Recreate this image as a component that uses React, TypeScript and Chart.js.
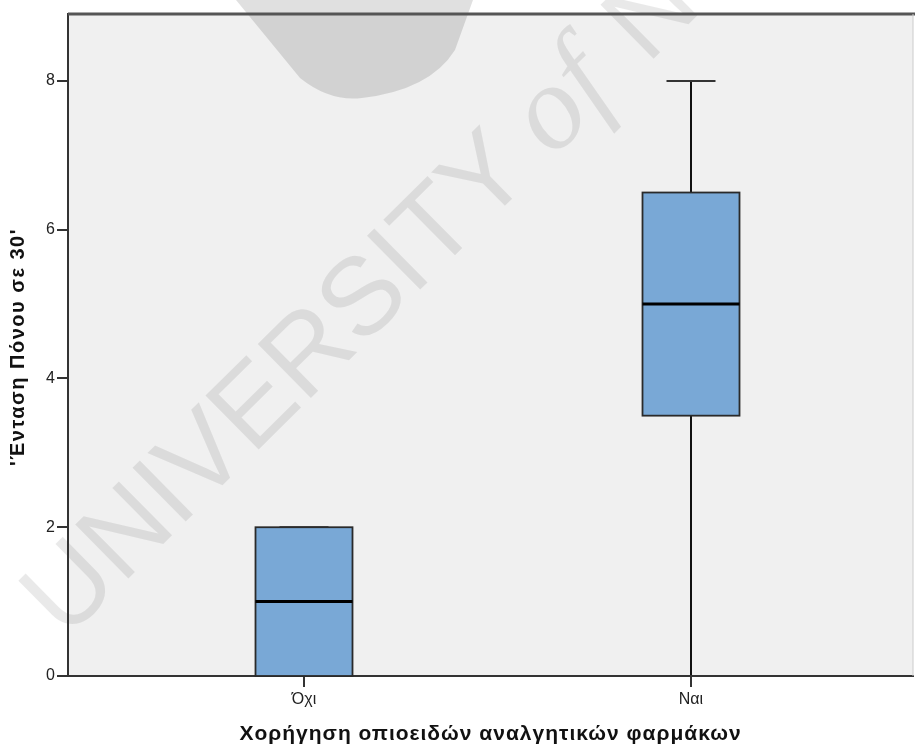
import React, { useEffect, useRef } from "react";
import { Chart, registerables } from "chart.js";

Chart.register(...registerables);

const categories = ["Όχι", "Ναι"];
const whiskerLow = [0, 0];
const quartile1 = [0, 3.5];
const medians = [1, 5];
const quartile3 = [2, 6.5];
const whiskerHigh = [2, 8];
const yTicks = [0, 2, 4, 6, 8];
const yTitle = "'Ένταση Πόνου σε 30'";
const xTitle = "Χορήγηση οπιοειδών αναλγητικών φαρμάκων";
const watermarkWords = ["UNIVERSITY", "of", "N"];

const FONT = "'Liberation Sans', Arial, sans-serif";

function drawWatermark(ctx: CanvasRenderingContext2D) {
  ctx.save();
  // logo fragment at the top
  ctx.fillStyle = "rgba(0,0,0,0.12)";
  ctx.beginPath();
  ctx.moveTo(236, 0);
  ctx.lineTo(300, 78);
  ctx.quadraticCurveTo(330, 102, 362, 98);
  ctx.quadraticCurveTo(430, 90, 455, 50);
  ctx.lineTo(473, 0);
  ctx.closePath();
  ctx.fill();
  ctx.fillStyle = "rgba(0,0,0,0.085)";
  ctx.translate(272, 380);
  ctx.rotate(-0.78);
  ctx.textAlign = "left";
  ctx.textBaseline = "alphabetic";
  ctx.font = `110px ${FONT}`;
  const w = ctx.measureText(watermarkWords[0]).width;
  ctx.fillText(watermarkWords[0], -w / 2, 40);
  ctx.font = `italic 120px 'Liberation Serif', serif`;
  const w2 = ctx.measureText(watermarkWords[1]).width;
  ctx.fillText(watermarkWords[1], w / 2 + 25, 40);
  ctx.font = `110px ${FONT}`;
  ctx.fillText(watermarkWords[2], w / 2 + 25 + w2 + 40, 40);
  ctx.restore();
}

const boxPlugin = {
  id: "boxPlugin",
  beforeDraw(chart: any) {
    const { ctx, chartArea } = chart;
    ctx.save();
    ctx.fillStyle = "#f0f0f0";
    ctx.fillRect(chartArea.left, chartArea.top, chartArea.right - chartArea.left, chartArea.bottom - chartArea.top);
    ctx.restore();
    drawWatermark(ctx);
  },
  afterDatasetsDraw(chart: any) {
    const { ctx, chartArea, scales } = chart;
    const xs = scales.x;
    const ys = scales.y;
    const boxW = 97;
    const capW = 49;
    ctx.save();
    categories.forEach((_, i) => {
      const cx = Math.round(xs.getPixelForValue(i));
      const yLo = ys.getPixelForValue(whiskerLow[i]);
      const yQ1 = ys.getPixelForValue(quartile1[i]);
      const yMed = ys.getPixelForValue(medians[i]);
      const yQ3 = ys.getPixelForValue(quartile3[i]);
      const yHi = ys.getPixelForValue(whiskerHigh[i]);
      ctx.strokeStyle = "#111";
      ctx.lineWidth = 2;
      ctx.beginPath();
      ctx.moveTo(cx, yQ3);
      ctx.lineTo(cx, yHi);
      ctx.moveTo(cx, yQ1);
      ctx.lineTo(cx, yLo);
      ctx.stroke();
      ctx.strokeStyle = "#333";
      ctx.beginPath();
      ctx.moveTo(cx - capW / 2, yHi);
      ctx.lineTo(cx + capW / 2, yHi);
      ctx.moveTo(cx - capW / 2, yLo);
      ctx.lineTo(cx + capW / 2, yLo);
      ctx.stroke();
      ctx.fillStyle = "#79a8d6";
      ctx.fillRect(cx - boxW / 2, yQ3, boxW, yQ1 - yQ3);
      ctx.strokeStyle = "#2a2a2a";
      ctx.lineWidth = 1.8;
      ctx.strokeRect(cx - boxW / 2, yQ3, boxW, yQ1 - yQ3);
      ctx.strokeStyle = "#000";
      ctx.lineWidth = 3;
      ctx.beginPath();
      ctx.moveTo(cx - boxW / 2, yMed);
      ctx.lineTo(cx + boxW / 2, yMed);
      ctx.stroke();
    });
    ctx.strokeStyle = "#555";
    ctx.lineWidth = 3;
    ctx.beginPath();
    ctx.moveTo(chartArea.left, chartArea.top);
    ctx.lineTo(chartArea.right + 2, chartArea.top);
    ctx.stroke();
    ctx.strokeStyle = "#ccc";
    ctx.lineWidth = 1;
    ctx.beginPath();
    ctx.moveTo(chartArea.right, chartArea.top);
    ctx.lineTo(chartArea.right, chartArea.bottom);
    ctx.stroke();
    ctx.fillStyle = "#111";
    ctx.textAlign = "center";
    ctx.textBaseline = "alphabetic";
    ctx.font = `bold 21px ${FONT}`;
    (ctx as any).letterSpacing = "1px";
    ctx.fillText(xTitle, (chartArea.left + chartArea.right) / 2, 740);
    ctx.save();
    ctx.translate(24, 347);
    ctx.rotate(-Math.PI / 2);
    ctx.font = `bold 20px ${FONT}`;
    (ctx as any).letterSpacing = "1.5px";
    ctx.fillText(yTitle, 0, 0);
    ctx.restore();
    (ctx as any).letterSpacing = "0px";
    ctx.restore();
  },
};

export default function App() {
  const ref = useRef<HTMLCanvasElement>(null);
  useEffect(() => {
    if (!ref.current) return;
    const chart = new Chart(ref.current, {
      type: "scatter",
      data: { datasets: [{ data: [], showLine: false }] },
      options: {
        animation: false,
        responsive: false,
        maintainAspectRatio: false,
        layout: { padding: { top: 14, right: 2, left: 0, bottom: 0 } },
        plugins: { legend: { display: false }, tooltip: { enabled: false } },
        scales: {
          x: {
            type: "linear",
            min: -0.61,
            max: 1.574,
            afterFit: (s: any) => {
              s.height = 68;
            },
            afterBuildTicks: (s: any) => {
              s.ticks = categories.map((_, i) => ({ value: i }));
            },
            grid: { drawOnChartArea: false, drawTicks: true, tickLength: 11, color: "#333", lineWidth: 2 },
            border: { display: true, color: "#333", width: 2 },
            ticks: {
              color: "#222",
              padding: 3,
              font: { family: FONT, size: 16 },
              callback: (v: any) => categories[Math.round(v)] ?? "",
            },
          },
          y: {
            type: "linear",
            min: 0,
            max: 8.9,
            afterFit: (s: any) => {
              s.width = 68;
            },
            afterBuildTicks: (s: any) => {
              s.ticks = yTicks.map((v) => ({ value: v }));
            },
            grid: { drawOnChartArea: false, drawTicks: true, tickLength: 11, color: "#333", lineWidth: 2 },
            border: { display: true, color: "#333", width: 2 },
            ticks: {
              color: "#222",
              padding: 2,
              font: { family: FONT, size: 16 },
            },
          },
        },
      },
      plugins: [boxPlugin],
    });
    return () => chart.destroy();
  }, []);
  return (
    <div style={{ position: "fixed", left: 0, top: 0, width: 915, height: 744, background: "#fff" }}>
      <canvas ref={ref} width={915} height={744} style={{ width: 915, height: 744 }} />
    </div>
  );
}
